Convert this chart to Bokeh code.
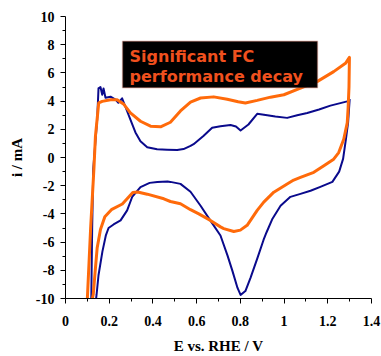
from bokeh.plotting import figure
from bokeh.models import FixedTicker, BoxAnnotation, Label, Range1d
from bokeh.embed import file_html
from bokeh.resources import INLINE

# ---- data ----
blue_E = [0.118, 0.122, 0.127, 0.145, 0.151, 0.160, 0.168, 0.174, 0.183, 0.206, 0.229, 0.242, 0.259,
          0.274, 0.297, 0.320, 0.343, 0.374, 0.419, 0.465, 0.511, 0.540, 0.572, 0.586, 0.631, 0.671,
          0.709, 0.755, 0.780, 0.801, 0.837, 0.877, 0.923, 0.960, 1.014, 1.060, 1.106, 1.160, 1.212,
          1.289, 1.300,
          1.293, 1.283, 1.270, 1.252, 1.221, 1.166, 1.121, 1.075, 1.029, 0.984, 0.947, 0.920, 0.906,
          0.878, 0.846, 0.823, 0.801, 0.787, 0.764, 0.741, 0.709, 0.663, 0.618, 0.572, 0.526, 0.480,
          0.467, 0.420, 0.385, 0.343, 0.305, 0.282, 0.252, 0.220, 0.197, 0.185, 0.169, 0.151, 0.142,
          0.140]
blue_i = [-10.0, -5.0, -0.8, 2.7, 4.9, 5.0, 4.45, 4.9, 4.24, 4.31, 4.1, 3.88, 4.2,
          3.6, 2.69, 1.78, 1.15, 0.72, 0.58, 0.55, 0.53, 0.6, 0.82, 0.94, 1.52, 2.11,
          2.22, 2.3, 2.2, 1.92, 2.34, 3.1, 3.0, 2.9, 2.81, 3.0, 3.16, 3.4, 3.68,
          3.98, 4.1,
          2.5, 1.3, -0.1, -1.0, -1.73, -2.08, -2.36, -2.58, -2.79, -3.42, -4.34, -5.3, -5.85,
          -7.14, -8.55, -9.47, -9.75, -9.25, -8.06, -6.94, -5.53, -4.48, -3.42, -2.43, -1.87, -1.73,
          -1.7, -1.74, -1.8, -2.1, -2.8, -3.75, -4.46, -4.75, -5.0, -5.5, -6.66, -8.35, -9.75,
          -10.0]

orange_E = [0.100, 0.115, 0.130, 0.137, 0.152, 0.168, 0.206, 0.236, 0.267, 0.297, 0.343, 0.389, 0.435,
            0.480, 0.526, 0.572, 0.618, 0.678, 0.740, 0.790, 0.823, 0.877, 0.938, 0.999, 1.075, 1.151,
            1.227, 1.281, 1.299,
            1.297, 1.293, 1.289, 1.273, 1.250, 1.227, 1.182, 1.136, 1.075, 1.044, 1.014, 0.953, 0.907,
            0.877, 0.831, 0.800, 0.770, 0.724, 0.709, 0.663, 0.610, 0.572, 0.526, 0.480, 0.450, 0.374,
            0.330, 0.308, 0.260, 0.210, 0.180, 0.160, 0.145, 0.135, 0.127, 0.123]
orange_i = [-10.0, -5.0, -0.8, 1.52, 3.87, 3.98, 4.10, 4.10, 3.77, 3.16, 2.57, 2.22, 2.18,
            2.5, 3.3, 3.93, 4.22, 4.3, 4.13, 3.95, 3.87, 4.05, 4.28, 4.45, 4.92, 5.38,
            6.09, 6.68, 7.10,
            5.0, 3.5, 2.46, 1.29, 0.35, -0.12, -0.59, -1.05, -1.41, -1.6, -1.88, -2.46, -3.16,
            -3.75, -4.81, -5.15, -5.25, -5.04, -4.92, -4.46, -4.0, -3.7, -3.28, -3.12, -2.93, -2.6,
            -2.45, -2.48, -3.3, -3.7, -4.2, -5.1, -6.4, -8.2, -9.7, -10.0]

x_ticks = [0, 0.2, 0.4, 0.6, 0.8, 1.0, 1.2, 1.4]
x_labels = ["0", "0.2", "0.4", "0.6", "0.8", "1", "1.2", "1.4"]
x_minor = [0.1, 0.3, 0.5, 0.7, 0.9, 1.1, 1.3]
y_ticks = [-10, -8, -6, -4, -2, 0, 2, 4, 6, 8, 10]
y_labels = ["-10", "-8", "-6", "-4", "-2", "0", "2", "4", "6", "8", "10"]
y_minor = [-9, -7, -5, -3, -1, 1, 3, 5, 7, 9]

annotation_text = "Significant FC\nperformance decay"
x_title = "E vs. RHE / V"
y_title = "i / mA"

# ---- figure ----
p = figure(width=381, height=356, output_backend="svg", toolbar_location=None,
           x_range=Range1d(0, 1.4), y_range=Range1d(-10, 10),
           min_border_left=65, min_border_right=10, min_border_top=16, min_border_bottom=56)
p.outline_line_color = None
p.xgrid.visible = False
p.ygrid.visible = False
p.background_fill_color = "white"
p.border_fill_color = "white"

p.line(blue_E, blue_i, line_color="#0A0A8C", line_width=2, line_join="round")
p.line(orange_E, orange_i, line_color="#FF6A0A", line_width=3, line_join="round")

box = BoxAnnotation(left=0.261, right=1.153, top=8.24, bottom=4.94,
                    fill_color="black", fill_alpha=1.0,
                    line_color="#C05A45", line_width=1.5, level="overlay")
p.add_layout(box)
lab = Label(x=0.293, y=7.85, text=annotation_text, text_font="DejaVu Sans",
            text_font_style="bold", text_font_size="16px", text_color="#F0501E",
            text_baseline="top", text_align="left", text_line_height=1.06, level="overlay")
p.add_layout(lab)

for ax, ticks, minor, labels in ((p.xaxis[0], x_ticks, x_minor, x_labels),
                                 (p.yaxis[0], y_ticks, y_minor, y_labels)):
    ax.ticker = FixedTicker(ticks=ticks, minor_ticks=minor)
    ax.major_label_overrides = {t: l for t, l in zip(ticks, labels)}
    ax.axis_line_color = "black"
    ax.axis_line_width = 1
    ax.major_tick_in = 0
    ax.major_tick_out = 5
    ax.minor_tick_in = 0
    ax.minor_tick_out = 3
    ax.major_tick_line_color = "black"
    ax.minor_tick_line_color = "black"
    ax.major_label_text_font = "Liberation Serif"
    ax.major_label_text_font_style = "bold"
    ax.major_label_text_font_size = "14px"
    ax.major_label_text_color = "black"
    ax.axis_label_text_font = "Liberation Serif"
    ax.axis_label_text_font_style = "bold"
    ax.axis_label_text_font_size = "15px"
    ax.axis_label_text_color = "black"

p.xaxis[0].axis_label = x_title
p.yaxis[0].axis_label = y_title
p.xaxis[0].major_label_standoff = 12
p.yaxis[0].major_label_standoff = 6
p.xaxis[0].axis_label_standoff = 9
p.yaxis[0].axis_label_standoff = 8

open("out.html", "w").write(file_html(p, INLINE))
